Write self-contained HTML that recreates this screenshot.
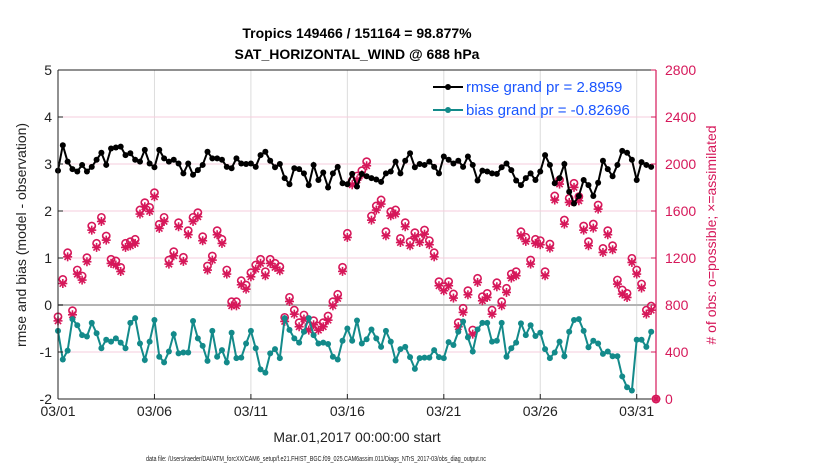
<!DOCTYPE html>
<html><head><meta charset="utf-8"><style>
html,body{margin:0;padding:0;background:#fff;}
svg{display:block;font-family:"Liberation Sans",sans-serif;}
</style></head><body>
<svg id="chart" width="830" height="470" viewBox="0 0 830 470">
<g id="grid"></g>
<g id="series"></g>
<g id="axes"></g>
<text x="357" y="38" text-anchor="middle" font-weight="bold" font-size="14">Tropics 149466 / 151164 = 98.877%</text>
<text x="357" y="59" text-anchor="middle" font-weight="bold" font-size="14">SAT_HORIZONTAL_WIND @ 688 hPa</text>
<text transform="translate(26,235) rotate(-90)" text-anchor="middle" font-size="14" fill="#222">rmse and bias (model - observation)</text>
<text transform="translate(716,235) rotate(-90)" text-anchor="middle" font-size="14" fill="#d6185a"># of obs: o=possible; ×=assimilated</text>
<text x="357" y="442" text-anchor="middle" font-size="14" fill="#222">Mar.01,2017 00:00:00 start</text>
<text x="316" y="461" text-anchor="middle" font-size="7" textLength="340" lengthAdjust="spacingAndGlyphs" fill="#222">data file: /Users/raeder/DAI/ATM_forcXX/CAM6_setup/f.e21.FHIST_BGC.f09_025.CAM6assim.011/Diags_NTrS_2017-03/obs_diag_output.nc</text>
<g>
 <line x1="433" y1="87" x2="463" y2="87" stroke="#000" stroke-width="2"/>
 <circle cx="448" cy="87" r="3" fill="#000"/>
 <text x="466" y="92" font-size="15" fill="#1a55ff">rmse grand pr = 2.8959</text>
 <line x1="433" y1="110" x2="463" y2="110" stroke="#138a8a" stroke-width="2"/>
 <circle cx="448" cy="110" r="3" fill="#138a8a"/>
 <text x="466" y="115" font-size="15" fill="#1a55ff">bias grand pr = -0.82696</text>
</g>
</svg>
<script>
const xTickLabels = ["03/01","03/06","03/11","03/16","03/21","03/26","03/31"];
const xTickDays = [0,5,10,15,20,25,30];
const yTicks = [-2,-1,0,1,2,3,4,5];
const y2Ticks = [0,400,800,1200,1600,2000,2400,2800];
const rmse = [2.86,3.40,3.05,2.89,2.84,2.98,2.84,2.94,3.09,3.24,2.98,3.33,3.35,3.37,3.19,3.23,3.09,3.05,3.30,3.01,2.93,3.30,3.12,3.05,3.09,3.01,2.80,3.01,2.77,2.87,2.98,3.26,3.12,3.12,3.09,2.94,2.91,3.12,3.01,3.00,3.01,2.94,3.19,
3.26,3.07,2.93,3.00,2.70,2.57,2.91,2.89,2.80,2.55,2.98,2.66,2.82,2.50,2.80,2.94,2.59,2.57,2.79,2.52,2.79,2.74,2.70,2.67,2.62,2.80,2.84,3.05,2.80,3.07,3.23,2.93,3.00,2.98,3.05,2.94,2.80,3.16,3.09,3.01,
3.07,2.94,3.16,2.98,2.65,2.86,2.84,2.80,2.79,2.93,3.01,2.87,2.65,2.55,2.70,2.80,2.66,2.84,3.19,2.98,2.59,2.70,3.00,2.41,2.16,2.32,2.66,2.55,2.32,2.60,3.07,2.89,2.74,2.98,3.28,3.24,3.09,2.66,3.04,2.98,2.94];
const bias = [-0.55,-1.16,-0.97,-0.30,-0.43,-0.64,-0.67,-0.38,-0.60,-0.92,-0.74,-0.78,-0.71,-0.80,-0.92,-0.38,-0.28,-0.82,-1.17,-0.78,-0.32,-1.10,-1.22,-0.99,-0.62,-1.03,-1.01,-1.01,-0.34,-0.71,-0.87,-1.19,-0.55,-1.10,-0.96,-1.22,-0.59,-1.13,-1.12,-0.82,-0.55,-0.92,-1.37,
-1.44,-1.03,-0.94,-1.13,-0.28,-0.53,-0.71,-0.80,-0.57,-0.28,-0.64,-0.82,-0.80,-0.83,-1.10,-1.16,-0.76,-0.50,-0.76,-0.33,-0.82,-0.73,-0.52,-0.71,-0.89,-0.55,-0.78,-1.18,-0.94,-0.89,-1.11,-1.36,-1.13,-1.12,-1.12,-0.96,-1.11,-1.13,-0.79,-0.85,
-0.57,-0.35,-0.69,-0.99,-0.52,-0.38,-0.38,-0.78,-0.76,-0.38,-1.10,-0.92,-0.80,-0.39,-0.64,-0.43,-0.66,-0.59,-0.94,-1.13,-1.01,-0.78,-1.09,-0.57,-0.32,-0.30,-0.55,-0.90,-0.76,-0.82,-1.04,-0.99,-1.09,-1.09,-1.52,-1.75,-1.82,-0.74,-0.74,-0.89,-0.57];
const obsPossible = [700,1018,1245,752,1098,1047,1203,1472,1325,1546,1387,1189,1175,1120,1325,1339,1359,1609,1671,1631,1756,1487,1546,1183,1254,1501,1206,1433,1546,1586,1382,1132,1217,1433,1359,1098,828,828,1007,970,1075,1140,1189,
1084,1189,1155,1126,695,865,757,650,715,621,667,621,650,706,828,891,1121,1410,1858,1898,1943,2020,1557,1643,1694,1424,1594,1609,1367,1501,1339,1416,1367,1438,1348,1245,999,956,999,894,
650,772,922,587,1027,871,899,757,990,828,942,1064,1084,1424,1376,1183,1359,1348,1084,1319,1728,1864,1523,1708,1836,1722,1472,1339,1489,1651,1282,1433,1305,1013,928,899,1197,1098,979,757,791,0];
const obsAssim = [665,983,1210,717,1063,1012,1168,1437,1290,1511,1352,1154,1140,1085,1290,1304,1324,1574,1636,1596,1721,1452,1511,1148,1219,1466,1171,1398,1511,1551,1347,1097,1182,1398,1324,1063,793,793,972,935,1040,1105,1154,
1049,1154,1120,1091,660,830,722,615,680,586,632,586,615,671,793,856,1086,1375,1823,1863,1908,1985,1522,1608,1659,1389,1559,1574,1332,1466,1304,1381,1332,1403,1313,1210,964,921,964,859,
615,737,887,552,992,836,864,722,955,793,907,1029,1049,1389,1341,1148,1324,1313,1049,1284,1693,1829,1488,1673,1801,1687,1437,1304,1454,1616,1247,1398,1270,978,893,864,1162,1063,944,722,756,0];
const stepDays = 0.25;

const X0=58, X1=656, Y0=399, Y1=70;
const DAYS=31, YMIN=-2, YMAX=5, Y2MAX=2800;
function xs(d){return X0+(d/DAYS)*(X1-X0);}
function ys(v){return Y0-(v-YMIN)/(YMAX-YMIN)*(Y0-Y1);}
function ys2(v){return Y0-(v/Y2MAX)*(Y0-Y1);}
const NS="http://www.w3.org/2000/svg";
function mk(tag,attrs,parent){const e=document.createElementNS(NS,tag);for(const k in attrs)e.setAttribute(k,attrs[k]);parent.appendChild(e);return e;}
const gridG=document.getElementById('grid'), axesG=document.getElementById('axes'), seriesG=document.getElementById('series');

xTickDays.forEach((d,i)=>{
 const l=mk('line',{x1:xs(d),x2:xs(d),y1:Y1,y2:Y0,stroke:'#dcdcdc','stroke-width':1},gridG);
 
 
});
y2Ticks.forEach(v=>{
 const l=mk('line',{x1:X0,x2:X1,y1:ys2(v),y2:ys2(v),stroke:'#f6cddc','stroke-width':1},gridG);
 
 
});
const zl=mk('line',{x1:X0,x2:X1,y1:ys(0),y2:ys(0),stroke:'#b4b4b4','stroke-width':2},gridG);



function star(cx,cy,r,parent){
 const g=mk('g',{stroke:'#d6185a','stroke-width':1.6},parent);
 
 
 mk('line',{x1:cx-r,y1:cy,x2:cx+r,y2:cy},g);
 mk('line',{x1:cx,y1:cy-r,x2:cx,y2:cy+r},g);
 mk('line',{x1:cx-r*0.7,y1:cy-r*0.7,x2:cx+r*0.7,y2:cy+r*0.7},g);
 mk('line',{x1:cx-r*0.7,y1:cy+r*0.7,x2:cx+r*0.7,y2:cy-r*0.7},g);
}
obsAssim.forEach((v,i)=>{star(xs(i*stepDays),ys2(v),4.5,seriesG);});
obsPossible.forEach((v,i)=>{
 const c=mk('circle',{cx:xs(i*stepDays),cy:ys2(v),r:3.6,fill:'none',stroke:'#d6185a','stroke-width':1.6},seriesG);
 
 
});

function drawLine(arr,color,name){
 const pts=arr.map((v,i)=>xs(i*stepDays).toFixed(1)+','+ys(v).toFixed(1)).join(' ');
 const p=mk('polyline',{points:pts,fill:'none',stroke:color,'stroke-width':2},seriesG);
 
 
 arr.forEach((v,i)=>{
  const c=mk('circle',{cx:xs(i*stepDays),cy:ys(v),r:3,fill:color},seriesG);
  
  
 });
}
drawLine(rmse,'#000000','rmse');
drawLine(bias,'#138a8a','bias');

const topBorder=mk('line',{x1:X0,x2:X1,y1:Y1,y2:Y1,stroke:'#222','stroke-width':1},axesG);


const la=mk('line',{x1:X0,x2:X0,y1:Y1,y2:Y0,stroke:'#222','stroke-width':1},axesG);


const ba=mk('line',{x1:X0,x2:X1,y1:Y0,y2:Y0,stroke:'#222','stroke-width':1},axesG);


const ra=mk('line',{x1:X1,x2:X1,y1:Y1,y2:Y0,stroke:'#d6185a','stroke-width':1.2},axesG);


yTicks.forEach(v=>{
 mk('line',{x1:X0,x2:X0+5,y1:ys(v),y2:ys(v),stroke:'#222'},axesG);
 const t=mk('text',{x:X0-6,y:ys(v)+5,'text-anchor':'end','font-size':14,fill:'#222'},axesG);
 t.textContent=v;
 
 
});
y2Ticks.forEach(v=>{
 mk('line',{x1:X1-5,x2:X1,y1:ys2(v),y2:ys2(v),stroke:'#d6185a'},axesG);
 const t=mk('text',{x:X1+9,y:ys2(v)+5,'font-size':14,fill:'#d6185a'},axesG);
 t.textContent=v;
 
 
});
xTickDays.forEach((d,i)=>{
 mk('line',{x1:xs(d),x2:xs(d),y1:Y0,y2:Y0-5,stroke:'#222'},axesG);
 const t=mk('text',{x:xs(d),y:Y0+17,'text-anchor':'middle','font-size':14,fill:'#222'},axesG);
 t.textContent=xTickLabels[i];
 
 
});
</script>
</body></html>
